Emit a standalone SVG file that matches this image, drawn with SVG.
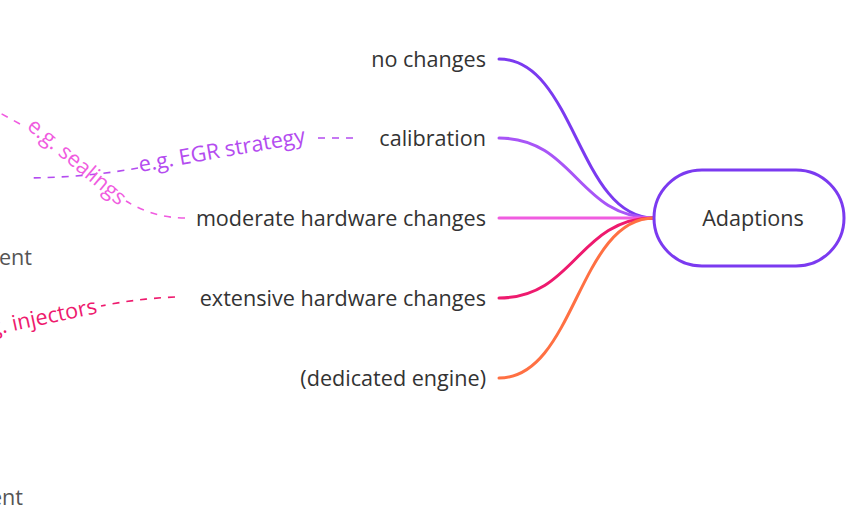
<svg xmlns="http://www.w3.org/2000/svg" width="846" height="513" viewBox="0 0 846 513">
  <style>
    text { font-family: "Open Sans", "Noto Sans", "DejaVu Sans", sans-serif; font-size: 21.6px; }
    .label { fill: #333333; text-anchor: end; }
    .faded { fill: #555555; text-anchor: end; }
    .branch { fill: none; stroke-width: 3; stroke-linecap: round; }
    .hint { fill: none; stroke-width: 1.6; stroke-dasharray: 7 7; }
  </style>
  <rect width="846" height="513" fill="#ffffff"/>

  <!-- branch connectors -->
  <g id="connectors">
    <path class="branch" d="M499,59 C575,59 578,218 654,218" stroke="#7b3af0"/>
    <path class="branch" d="M499,138 C575,138 578,218 654,218" stroke="#a855f7"/>
    <path class="branch" d="M499,218 L654,218" stroke="#f05ce0"/>
    <path class="branch" d="M499,298 C575,298 578,218 654,218" stroke="#ee1a6e"/>
    <path class="branch" d="M499,378 C575,378 578,218 654,218" stroke="#ff7043"/>
    <!-- dashed side notes -->
    <path class="hint" d="M353,138 L316,138" stroke="#b44cf0"/>
    <path class="hint" d="M138,168 C110,173 80,177 30,178" stroke="#b44cf0"/>
    <path class="hint" d="M185,218 C162,218 142,211 126,201" stroke="#f05ce0"/>
    <path class="hint" d="M20,124 L0,113" stroke="#f05ce0"/>
    <path class="hint" d="M175,297 C150,298 126,301 101,306" stroke="#ee1a6e"/>
  </g>

  <g id="adaptions">
    <rect x="654" y="170" width="190" height="96" rx="48" fill="#ffffff" stroke="#7b3af0" stroke-width="3"/>
    <text x="753" y="225.5" text-anchor="middle" fill="#333333">Adaptions</text>
  </g>

  <g id="no-changes"><text class="label" x="486" y="66.5">no changes</text></g>
  <g id="calibration"><text class="label" x="486" y="145.5">calibration</text></g>
  <g id="moderate"><text class="label" x="486" y="225.5">moderate hardware changes</text></g>
  <g id="extensive"><text class="label" x="486" y="305.5">extensive hardware changes</text></g>
  <g id="dedicated"><text class="label" x="486" y="385.5">(dedicated engine)</text></g>

  <g id="note-egr">
    <text transform="translate(140,172) rotate(-10)" fill="#b44cf0">e.g. EGR strategy</text>
  </g>
  <g id="note-sealings">
    <text transform="translate(26,128) rotate(40)" fill="#f05ce0">e.g. sealings</text>
  </g>
  <g id="note-injectors">
    <text transform="translate(98,313) rotate(-12)" fill="#ee1a6e" text-anchor="end">g. injectors</text>
  </g>

  <g id="cut-off-1"><text class="faded" x="32" y="265">ent</text></g>
  <g id="cut-off-2"><text class="faded" x="23" y="505">ent</text></g>
</svg>
